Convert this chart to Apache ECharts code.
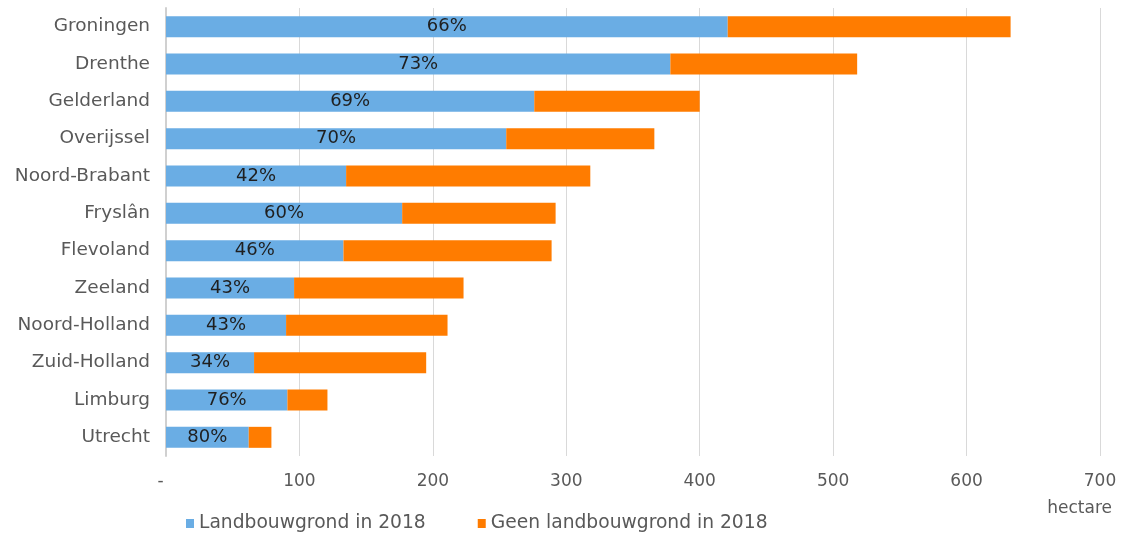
<!DOCTYPE html>
<html>
<head>
<meta charset="utf-8">
<script src="https://cdn.jsdelivr.net/npm/echarts@6/dist/echarts.min.js"></script>
<style>
  html, body { margin: 0; padding: 0; background: #fff; }
  #chart { width: 1121px; height: 535px; }
</style>
</head>
<body>
<div id="chart"></div>
<script>
// provincies, van boven naar beneden
const provinces = ['Groningen', 'Drenthe', 'Gelderland', 'Overijssel', 'Noord-Brabant', 'Fryslân',
  'Flevoland', 'Zeeland', 'Noord-Holland', 'Zuid-Holland', 'Limburg', 'Utrecht']
const landbouw = [421, 378, 276, 255, 135, 177, 133, 96, 90, 66, 91, 62]
const geenLandbouw = [212, 140, 124, 111, 183, 115, 156, 127, 121, 129, 30, 17]
const percentLabels = ['66%', '73%', '69%', '70%', '42%', '60%', '46%', '43%', '43%', '34%', '76%', '80%']

const fontFamily = '"DejaVu Sans", Verdana, sans-serif'
const chart = echarts.init(document.getElementById('chart'))

const option = {
  animation: false,
  grid: {
    left: 166,
    right: 21,
    top: 8,
    bottom: 79
  },
  legend: {
    data: ['Landbouwgrond in 2018', 'Geen landbouwgrond in 2018'],
    left: 181,
    top: 509,
    icon: 'rect',
    itemWidth: 8,
    itemHeight: 9,
    itemGap: 52,
    textStyle: { fontFamily, fontSize: 18.7, color: '#595959' }
  },
  xAxis: {
    type: 'value',
    min: 0,
    max: 700,
    interval: 100,
    name: 'hectare',
    nameLocation: 'end',
    nameGap: 0,
    nameTextStyle: { fontFamily, fontSize: 17, color: '#595959', align: 'right', verticalAlign: 'top', padding: [44, -12, 0, 0] },
    axisLine: { show: false },
    axisTick: { show: false },
    splitLine: { show: true, lineStyle: { color: '#d9d9d9', width: 1 } },
    axisLabel: {
      fontFamily,
      fontSize: 17,
      color: '#595959',
      margin: 17,
      formatter: (v) => (v === 0 ? '-  ' : String(v)) // streepje staat iets links van de as
    }
  },
  yAxis: {
    type: 'category',
    inverse: true,
    data: provinces,
    axisLine: { show: true, lineStyle: { color: '#d0d0d0', width: 2 } },
    axisTick: { show: false },
    axisLabel: {
      fontFamily,
      fontSize: 18.5,
      color: '#595959',
      margin: 16
    }
  },
  series: [
    {
      name: 'Landbouwgrond in 2018',
      type: 'bar',
      stack: 'totaal',
      barWidth: 21,
      itemStyle: { color: '#6aade4' },
      label: {
        show: true,
        position: 'inside',
        fontFamily,
        fontSize: 18,
        color: '#1f1f1f',
        formatter: (p) => percentLabels[p.dataIndex]
      },
      data: landbouw
    },
    {
      name: 'Geen landbouwgrond in 2018',
      type: 'bar',
      stack: 'totaal',
      barWidth: 21,
      itemStyle: { color: '#ff7c00' },
      data: geenLandbouw
    }
  ]
}

chart.setOption(option)
</script>
</body>
</html>
